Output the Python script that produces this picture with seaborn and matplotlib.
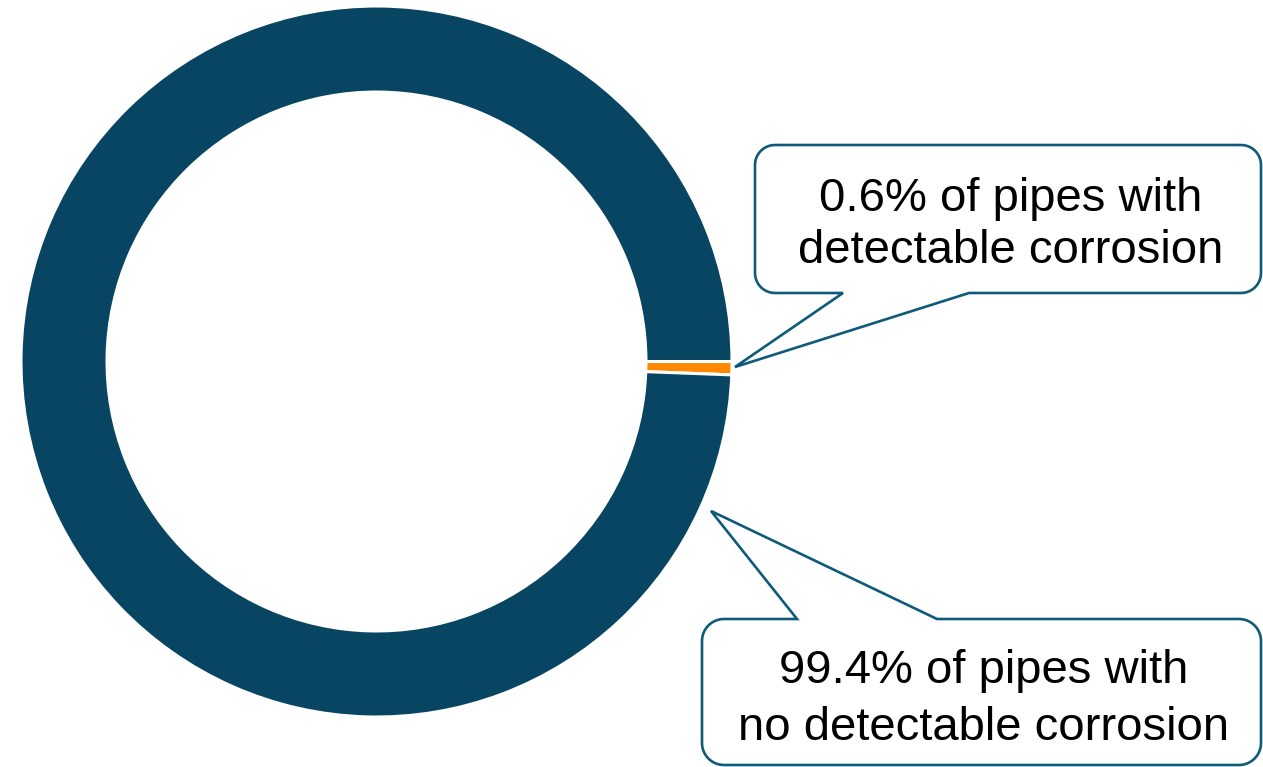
import numpy as np
import matplotlib
matplotlib.use("Agg")
import matplotlib.pyplot as plt
from matplotlib.patches import Polygon
import seaborn as sns

# Share of inspected pipes
categories = ["With detectable corrosion", "No detectable corrosion"]
shares = [0.6, 99.4]
ring_colors = ["#FF8800", "#084563"]
callout_lines = [
    ["0.6% of pipes with", "detectable corrosion"],
    ["99.4% of pipes with", "no detectable corrosion"],
]

sns.set_theme(style="white")
plt.rcParams["font.family"] = ["Liberation Sans", "DejaVu Sans"]

W, H = 1263, 767
fig = plt.figure(figsize=(W / 100, H / 100), dpi=100)
fig.patch.set_facecolor("white")

# Donut ring: centre (376.5, 361.5) px, outer radius 355.5 px
cx, cy, R = 376.5, 361.5, 355.5
ax = fig.add_axes([(cx - R) / W, (H - cy - R) / H, 2 * R / W, 2 * R / H])
ax.pie(shares, colors=ring_colors, startangle=0, counterclock=False,
       radius=1.0,
       wedgeprops=dict(width=0.242, edgecolor="white", linewidth=2.2))
ax.set_xlim(-1, 1)
ax.set_ylim(-1, 1)
ax.axis("off")

# Overlay in pixel coordinates for the speech-bubble callouts
ov = fig.add_axes([0, 0, 1, 1], zorder=5)
ov.set_xlim(0, W)
ov.set_ylim(H, 0)
ov.axis("off")
ov.patch.set_alpha(0)

EDGE = "#0E5A7A"


def bubble(x0, y0, x1, y1, r, side, base_a, base_b, tip):
    def arc(ccx, ccy, t0, t1):
        t = np.radians(np.linspace(t0, t1, 16))
        return list(zip(ccx + r * np.cos(t), ccy + r * np.sin(t)))

    pts = []
    pts += arc(x0 + r, y0 + r, 180, 270)
    if side == "top":
        pts += [(base_a, y0), tip, (base_b, y0)]
    pts += arc(x1 - r, y0 + r, 270, 360)
    pts += arc(x1 - r, y1 - r, 0, 90)
    if side == "bottom":
        pts += [(base_b, y1), tip, (base_a, y1)]
    pts += arc(x0 + r, y1 - r, 90, 180)
    ov.add_patch(Polygon(pts, closed=True, facecolor="white", edgecolor=EDGE,
                         linewidth=1.9, joinstyle="miter"))


bubble(755, 145, 1261, 293, 20, "bottom", 843, 969, (735, 367))
bubble(702, 619, 1261, 765, 22, "top", 797, 937, (711, 511))

text_kw = dict(fontsize=34, color="black", ha="center", va="baseline")
for (xc, baselines), lines in zip([(1011, (211, 263)), (984, (683, 740))],
                                  callout_lines):
    for yb, line in zip(baselines, lines):
        ov.text(xc, yb, line, **text_kw)

fig.savefig("out.png", dpi=100, facecolor="white")
